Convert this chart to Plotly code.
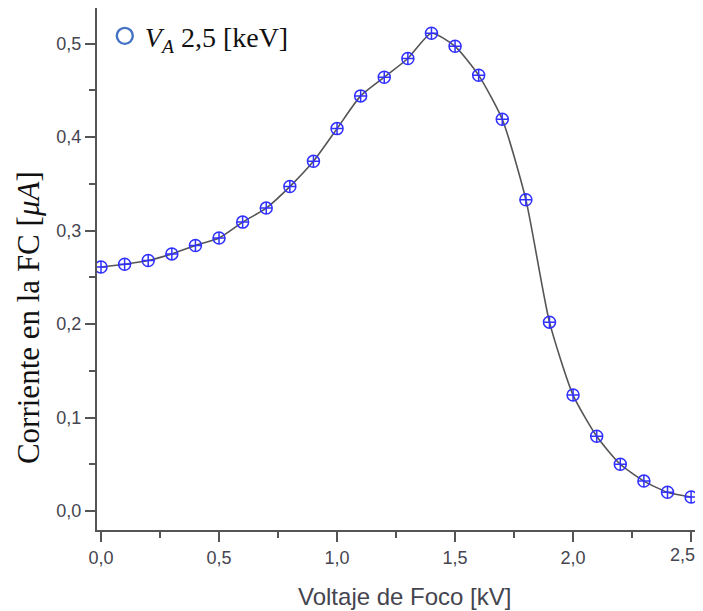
import plotly.graph_objects as go

voltaje = [0.0, 0.1, 0.2, 0.3, 0.4, 0.5, 0.6, 0.7, 0.8, 0.9, 1.0, 1.1, 1.2, 1.3,
           1.4, 1.5, 1.6, 1.7, 1.8, 1.9, 2.0, 2.1, 2.2, 2.3, 2.4, 2.5]
corriente = [0.261, 0.264, 0.268, 0.275, 0.284, 0.292, 0.309, 0.324, 0.347, 0.374,
             0.409, 0.444, 0.464, 0.484, 0.511, 0.497, 0.466, 0.419, 0.333, 0.202,
             0.124, 0.080, 0.050, 0.032, 0.020, 0.015]
x_ticks = [0.0, 0.5, 1.0, 1.5, 2.0, 2.5]
x_tick_labels = ["0,0", "0,5", "1,0", "1,5", "2,0", "2,5"]
y_ticks = [0.0, 0.1, 0.2, 0.3, 0.4, 0.5]

fig = go.Figure()
fig.add_trace(go.Scatter(
    x=voltaje, y=corriente, mode="lines+markers", showlegend=False,
    line=dict(color="#555555", width=1.6, shape="spline", smoothing=0.6),
    marker=dict(symbol="circle-cross-open", size=12, color="#3030ff",
                line=dict(width=1.5, color="#3030ff")),
))
fig.add_trace(go.Scatter(
    x=[None], y=[None], mode="markers",
    name="<i>V<sub>A</sub></i> 2,5 [keV]",
    marker=dict(symbol="circle-open", size=19, color="#4472c4",
                line=dict(width=2.4, color="#4472c4")),
))

tickfont = dict(family="Liberation Sans, Arial, sans-serif", size=18, color="#45454f")
# the last x tick label sits at the window edge; it is drawn as an annotation nudged inward
axis_labels = x_tick_labels[:-1] + [""]

fig.update_layout(
    width=695, height=603,
    margin=dict(l=89, r=6, t=0, b=81),
    plot_bgcolor="white", paper_bgcolor="white",
    separators=",.",
    legend=dict(x=0.013, y=0.994, xanchor="left", yanchor="top",
                bgcolor="rgba(0,0,0,0)",
                font=dict(family="Liberation Serif, Times New Roman, serif", size=28, color="#111111"),
                itemsizing="trace", tracegroupgap=0),
    xaxis=dict(range=[-0.017, 2.525], tickvals=x_ticks, ticktext=axis_labels, automargin=False,
               showgrid=False, zeroline=False, showline=True, linecolor="#555555", linewidth=2,
               ticks="outside", ticklen=10, tickwidth=1.5, tickcolor="#555555",
               tickfont=tickfont,
               minor=dict(tickvals=[0.25, 0.75, 1.25, 1.75, 2.25], ticks="outside",
                          ticklen=6, tickwidth=1.5, tickcolor="#555555")),
    yaxis=dict(range=[-0.0203, 0.538], tickvals=y_ticks, tickformat=".1f", automargin=False,
               ticklabeloverflow="allow",
               showgrid=False, zeroline=False, showline=True, linecolor="#555555", linewidth=2,
               ticks="outside", ticklen=10, tickwidth=1.5, tickcolor="#555555",
               tickfont=tickfont,
               minor=dict(tickvals=[0.05, 0.15, 0.25, 0.35, 0.45], ticks="outside",
                          ticklen=6, tickwidth=1.5, tickcolor="#555555")),
    annotations=[
        dict(text="Corriente en la FC [<i>μA</i>]", textangle=-90, showarrow=False,
             xref="paper", yref="paper", x=-0.115, y=0.406, xanchor="center", yanchor="middle",
             font=dict(family="Liberation Serif, Times New Roman, serif", size=31, color="#111111")),
        dict(text="Voltaje de Foco [kV]", showarrow=False,
             xref="paper", yref="paper", x=0.513, y=0, yshift=-66, xanchor="center", yanchor="middle",
             font=dict(family="Liberation Sans, Arial, sans-serif", size=24, color="#45454f")),
        dict(text=x_tick_labels[-1], showarrow=False,
             xref="x", yref="paper", x=x_ticks[-1], y=0, xshift=-9, yshift=-25,
             xanchor="center", yanchor="middle", font=tickfont),
    ],
)

fig.write_html("out.html")
